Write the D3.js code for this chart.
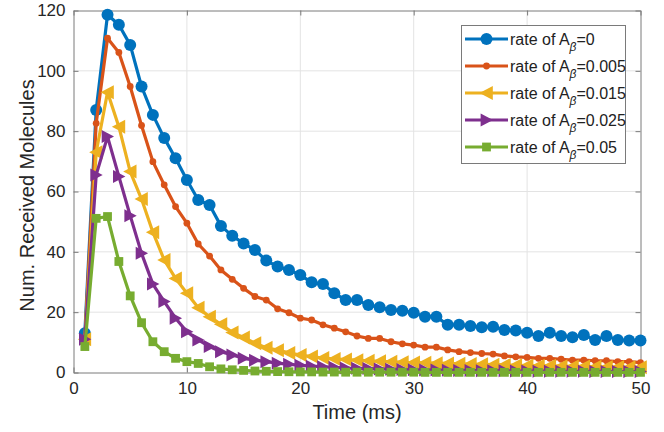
<!DOCTYPE html>
<html><head><meta charset="utf-8">
<script src="https://cdn.jsdelivr.net/npm/d3@7"></script>
<style>body{margin:0;background:#fff;} svg{display:block;}</style>
</head><body>
<svg id="c" width="664" height="432"></svg>
<script>
const time = d3.range(1, 51);
const rate0 = [13,87,118.6,115.3,108.6,94.8,85.4,77.7,71,63.8,57.2,55.5,48.6,45.3,42.8,40.6,37.1,35.1,34,32.3,29.9,29.3,26.3,24,24,22.4,21.6,20.7,20.5,19.8,18.5,18.5,15.8,15.8,15.4,15,15.2,14.1,13.9,13.2,12.1,13.2,12.1,11.7,12.4,10.8,12.1,10.8,10.6,10.6];
const rate005 = [11,82.6,110.8,106.1,94.8,81.9,69.9,62.2,55,49.5,42.6,38.6,34,30.9,27.9,25.2,24,21.1,19.8,18,17.4,15.8,14.7,13.5,12.1,11.3,11.3,10.2,9.5,9.1,8.4,8.4,7.5,6.9,6.6,6.3,6.1,5.5,5.2,5.0,4.7,4.7,4.4,4.1,4.1,3.9,3.9,3.6,3.6,3.3];
const rate015 = [11,73,92.9,81.5,66.6,57.5,46.5,37.3,31.2,26.3,21.5,18.5,16,13.3,11.6,9.7,8.2,7.4,6.5,5.8,5.3,4.8,4.5,4.3,4.1,3.9,3.7,3.6,3.4,3.3,3.2,3.1,3.0,2.9,2.8,2.7,2.6,2.5,2.4,2.3,2.2,2.2,2.1,2.0,2.0,1.9,1.8,1.8,1.7,1.7];
const rate025 = [11,65.5,78.2,65,52,39.5,29.3,23.5,18,13.5,10.8,8.6,6.9,5.8,4.7,4.1,3.6,3.1,2.7,2.4,2.1,1.9,1.7,1.5,1.4,1.3,1.2,1.1,1.0,0.9,0.85,0.8,0.75,0.7,0.65,0.6,0.6,0.55,0.5,0.5,0.45,0.45,0.4,0.4,0.4,0.35,0.35,0.3,0.3,0.3];
const rate05 = [8.6,51.1,51.7,36.8,25.4,16.5,10.2,6.9,4.7,3.6,3.0,1.9,1.2,0.9,0.7,0.5,0.4,0.3,0.25,0.2,0.2,0.15,0.15,0.1,0.1,0.1,0.1,0.1,0.1,0.1,0.05,0.05,0.05,0.05,0.05,0.05,0.05,0.05,0.05,0.05,0.05,0.05,0.05,0.05,0.05,0.05,0.05,0.05,0.05,0.05];
const seriesNames = ["0","0.005","0.015","0.025","0.05"];
const seriesValues = [rate0, rate005, rate015, rate025, rate05];
const colors = ["#0072BD","#D95319","#EDB120","#7E2F8E","#77AC30"];
const markers = ["circle","dot","triLeft","triRight","square"];
const xTicks = [0,10,20,30,40,50];
const yTicks = [0,20,40,60,80,100,120];

const svg = d3.select("#c");
const L = 73.5, R = 640.5, T = 10.5, B = 372.5;
const x = d3.scaleLinear().domain([0,50]).range([L,R]);
const y = d3.scaleLinear().domain([0,120]).range([B,T]);
const font = "'Liberation Sans', Arial, sans-serif";
const axisCol = "#7a7a7a", textCol = "#262626";

// grid
const g = svg.append("g");
g.selectAll(".gx").data(xTicks.slice(1,-1)).enter().append("line")
 .attr("x1",d=>x(d)).attr("x2",d=>x(d)).attr("y1",T).attr("y2",B)
 .attr("stroke","#e3e3e3").attr("stroke-width",1);
g.selectAll(".gy").data(yTicks.slice(1,-1)).enter().append("line")
 .attr("y1",d=>y(d)).attr("y2",d=>y(d)).attr("x1",L).attr("x2",R)
 .attr("stroke","#e3e3e3").attr("stroke-width",1);

// axes
function styleAxis(sel){
  sel.select(".domain").attr("stroke",axisCol).attr("stroke-width",1);
  sel.selectAll(".tick line").attr("stroke",axisCol);
  sel.selectAll(".tick text").attr("fill",textCol).style("font-family",font).style("font-size","17px");
}
const xa = svg.append("g").attr("transform",`translate(0,${B})`)
 .call(d3.axisBottom(x).tickValues(xTicks).tickSizeInner(-5).tickSizeOuter(0).tickPadding(9));
styleAxis(xa);
const xt = svg.append("g").attr("transform",`translate(0,${T})`)
 .call(d3.axisTop(x).tickValues(xTicks).tickSizeInner(-5).tickSizeOuter(0).tickFormat(""));
styleAxis(xt);
const ya = svg.append("g").attr("transform",`translate(${L},0)`)
 .call(d3.axisLeft(y).tickValues(yTicks).tickSizeInner(-5).tickSizeOuter(0).tickPadding(8));
styleAxis(ya);
const yr = svg.append("g").attr("transform",`translate(${R},0)`)
 .call(d3.axisRight(y).tickValues(yTicks).tickSizeInner(-5).tickSizeOuter(0).tickFormat(""));
styleAxis(yr);

// labels
svg.append("text").attr("x",(L+R)/2).attr("y",419).attr("text-anchor","middle")
 .attr("fill",textCol).style("font-family",font).style("font-size","20px").text("Time (ms)");
svg.append("text").attr("transform",`translate(27,${(T+B)/2+4}) rotate(-90)`).attr("text-anchor","middle")
 .attr("dy","0.35em")
 .attr("fill",textCol).style("font-family",font).style("font-size","20px").text("Num. Received Molecules");

function drawMarker(sel, type, color, cx, cy){
  if(type==="circle"){
    sel.append("circle").attr("cx",cx).attr("cy",cy).attr("r",6).attr("fill",color);
  } else if(type==="dot"){
    sel.append("circle").attr("cx",cx).attr("cy",cy).attr("r",3.4).attr("fill",color);
  } else if(type==="triLeft"){
    const s=7;
    sel.append("path").attr("d",`M${cx-s},${cy} L${cx+s*0.9},${cy-s} L${cx+s*0.9},${cy+s} Z`).attr("fill",color);
  } else if(type==="triRight"){
    const s=6.5;
    sel.append("path").attr("d",`M${cx+s},${cy} L${cx-s*0.9},${cy-s} L${cx-s*0.9},${cy+s} Z`).attr("fill",color);
  } else if(type==="square"){
    const s=4.4;
    sel.append("rect").attr("x",cx-s).attr("y",cy-s).attr("width",2*s).attr("height",2*s).attr("fill",color);
  }
}

const line = d3.line().x((d,i)=>x(time[i])).y(d=>y(d));
seriesValues.forEach((vals,k)=>{
  const sg = svg.append("g");
  sg.append("path").datum(vals).attr("d",line).attr("fill","none")
    .attr("stroke",colors[k]).attr("stroke-width",3.2).attr("stroke-linejoin","round");
  vals.forEach((v,i)=>drawMarker(sg, markers[k], colors[k], x(time[i]), y(v)));
});

// legend
const lg = svg.append("g");
lg.append("rect").attr("x",461.5).attr("y",25.5).attr("width",164).attr("height",138)
  .attr("fill","#fff").attr("stroke",axisCol).attr("stroke-width",1);
const rowY = [39,66,93,120,147];
seriesNames.forEach((nm,k)=>{
  const yy = rowY[k];
  lg.append("line").attr("x1",465).attr("x2",508).attr("y1",yy).attr("y2",yy)
    .attr("stroke",colors[k]).attr("stroke-width",3.2);
  drawMarker(lg, markers[k], colors[k], 486.5, yy);
  const t = lg.append("text").attr("x",510).attr("y",yy+5.5).attr("fill","#222")
    .style("font-family",font).style("font-size","16px");
  t.append("tspan").text("rate of A");
  t.append("tspan").attr("dy",6.5).style("font-size","12px").style("font-style","italic").text("β");
  t.append("tspan").attr("dy",-6.5).text("="+nm);
});
</script>
</body></html>
